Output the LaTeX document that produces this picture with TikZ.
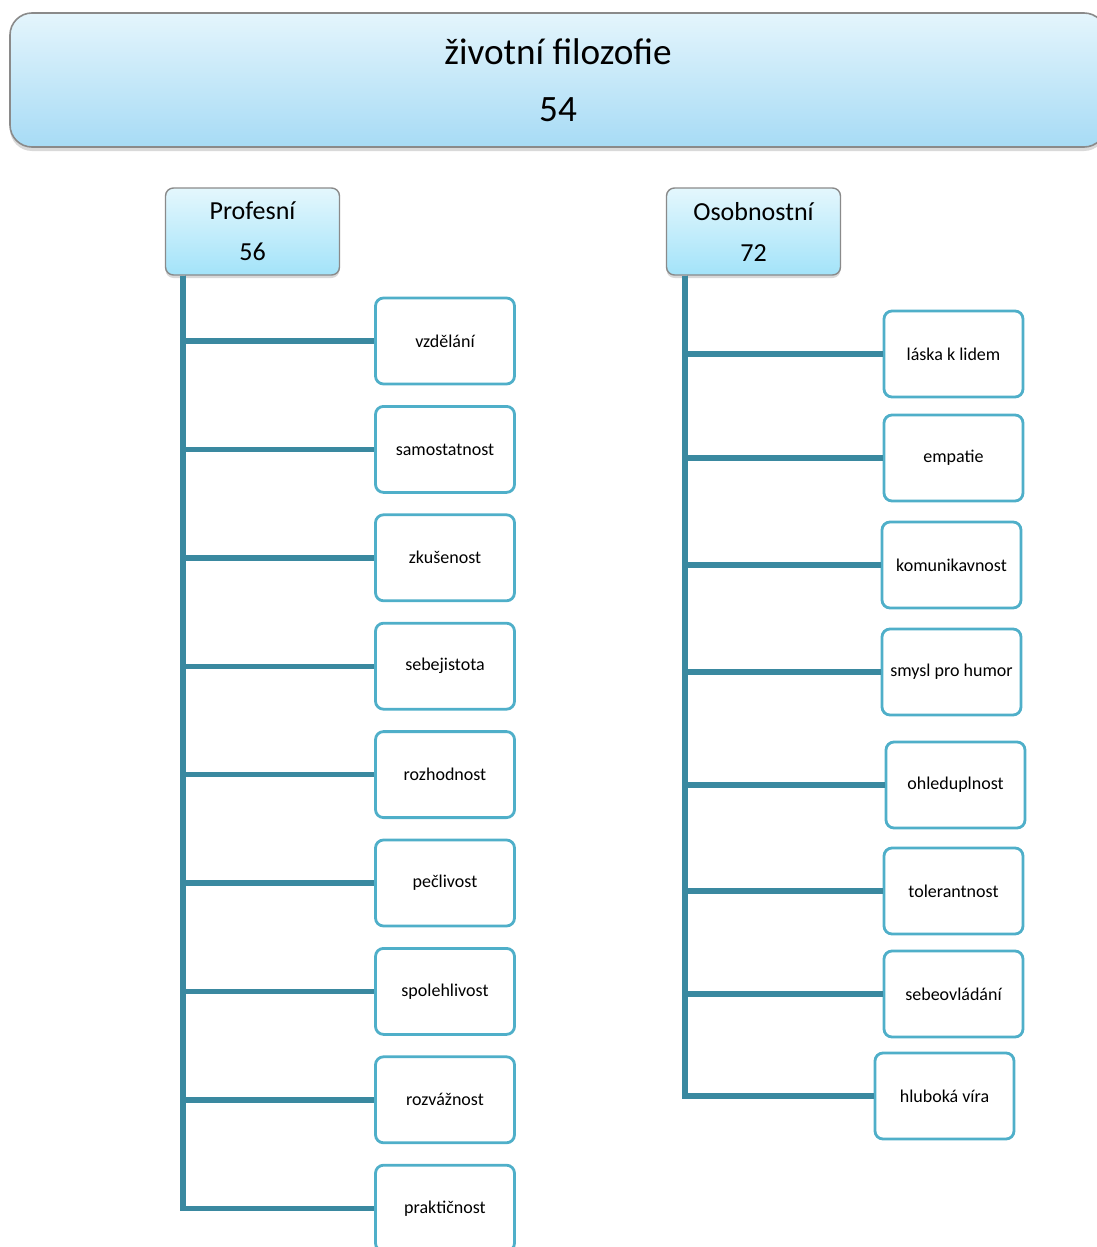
\documentclass[tikz,border=0pt]{standalone}
\usepackage{fontspec}
\setmainfont{Carlito}
\usetikzlibrary{positioning, shadows}
\definecolor{boxgray}{HTML}{8A8A8A}
\definecolor{topsky}{HTML}{E4F5FC}
\definecolor{bottomsky}{HTML}{A7DBF5}
\definecolor{topcyan}{HTML}{E4F7FD}
\definecolor{bottomcyan}{HTML}{A3E3F9}
\definecolor{leafblue}{HTML}{4FAFC9}
\definecolor{trunkteal}{HTML}{3A89A0}

\begin{document}
\begin{tikzpicture}[x=0.5pt, y=-0.5pt, node distance=54.2pt]
% Define styles
\tikzstyle{root} = [rectangle, rounded corners=11pt, minimum width=548pt, minimum height=67pt, inner sep=0pt, align=center, draw=boxgray, line width=0.8pt, top color=topsky, bottom color=bottomsky, drop shadow={shadow xshift=0pt, shadow yshift=-2pt, opacity=0.3}, font=\fontsize{18.6}{28.5}\selectfont]
\tikzstyle{group} = [rectangle, rounded corners=4pt, minimum width=87pt, minimum height=43.5pt, inner sep=0pt, align=center, draw=boxgray, line width=0.7pt, top color=topcyan, bottom color=bottomcyan, drop shadow={shadow xshift=0pt, shadow yshift=-1.5pt, opacity=0.3}, font=\fontsize{13}{20.5}\selectfont]
\tikzstyle{leaf} = [rectangle, rounded corners=4pt, minimum width=69.5pt, minimum height=43pt, inner sep=0pt, text centered, draw=leafblue, line width=1.4pt, fill=white, font=\fontsize{9}{11}\selectfont]
\tikzstyle{branch} = [draw=trunkteal, line width=2.7pt]

\useasboundingbox (0,0) rectangle (1097,1247);

% Nodes
\node (root) [root] at (558,80) {životní filozofie\\54};
\node (profesni) [group] at (252.5,231.5) {Profesní\\56};
\node (osobnostni) [group] at (753.5,231.5) {Osobnostní\\72};

\node (vzdelani) [leaf] at (445,341) {vzdělání};
\node (samostatnost) [leaf, below of=vzdelani] {samostatnost};
\node (zkusenost) [leaf, below of=samostatnost] {zkušenost};
\node (sebejistota) [leaf, below of=zkusenost] {sebejistota};
\node (rozhodnost) [leaf, below of=sebejistota] {rozhodnost};
\node (peclivost) [leaf, below of=rozhodnost] {pečlivost};
\node (spolehlivost) [leaf, below of=peclivost] {spolehlivost};
\node (rozvaznost) [leaf, below of=spolehlivost] {rozvážnost};
\node (prakticnost) [leaf, below of=rozvaznost] {praktičnost};

\node (laska) [leaf] at (953.5,354) {láska k lidem};
\node (empatie) [leaf] at (953.5,458) {empatie};
\node (komunikavnost) [leaf] at (951.5,565) {komunikavnost};
\node (humor) [leaf] at (951.5,672) {smysl pro humor};
\node (ohleduplnost) [leaf] at (955.5,785) {ohleduplnost};
\node (tolerantnost) [leaf] at (953.5,891) {tolerantnost};
\node (sebeovladani) [leaf] at (953.5,994) {sebeovládání};
\node (vira) [leaf] at (944.5,1096) {hluboká víra};

% Connectors
\coordinate (proftrunk) at ([xshift=9pt]profesni.south west);
\coordinate (osobtrunk) at ([xshift=9.5pt]osobnostni.south west);
\draw[branch] (proftrunk) |- (vzdelani.west);
\draw[branch] (proftrunk) |- (samostatnost.west);
\draw[branch] (proftrunk) |- (zkusenost.west);
\draw[branch] (proftrunk) |- (sebejistota.west);
\draw[branch] (proftrunk) |- (rozhodnost.west);
\draw[branch] (proftrunk) |- (peclivost.west);
\draw[branch] (proftrunk) |- (spolehlivost.west);
\draw[branch] (proftrunk) |- (rozvaznost.west);
\draw[branch] (proftrunk) |- (prakticnost.west);

\draw[branch] (osobtrunk) |- (laska.west);
\draw[branch] (osobtrunk) |- (empatie.west);
\draw[branch] (osobtrunk) |- (komunikavnost.west);
\draw[branch] (osobtrunk) |- (humor.west);
\draw[branch] (osobtrunk) |- (ohleduplnost.west);
\draw[branch] (osobtrunk) |- (tolerantnost.west);
\draw[branch] (osobtrunk) |- (sebeovladani.west);
\draw[branch] (osobtrunk) |- (vira.west);
\end{tikzpicture}
\end{document}
